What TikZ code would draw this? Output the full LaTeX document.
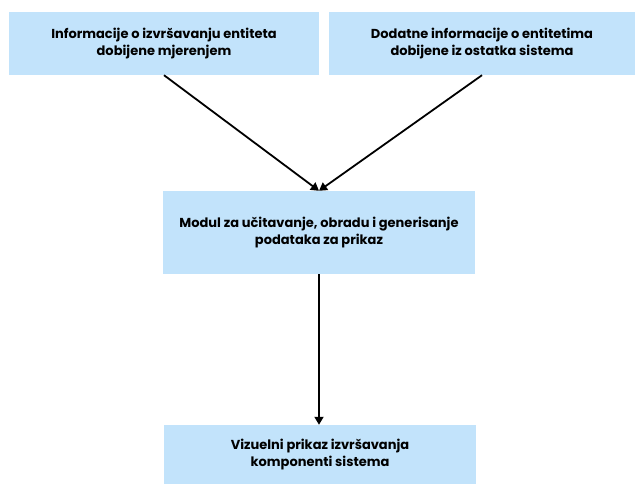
\documentclass[tikz,border=0pt]{standalone}
\usepackage{fontspec}
\setmainfont{Poppins}
\usetikzlibrary{arrows.meta}
\definecolor{boxblue}{RGB}{194,227,251}
\begin{document}
\begin{tikzpicture}[x=1pt,y=-1pt,
  box/.style={fill=boxblue,draw=none,align=center,inner sep=0pt,font=\fontsize{13}{17}\selectfont\bfseries},
  conn/.style={line width=1.8pt,-{Triangle[length=8pt,width=9pt]}}]
\useasboundingbox[fill=white] (0,0) rectangle (635,484);
\node[box,minimum width=310pt,minimum height=63pt] (A) at (164,43.5) {Informacije o izvršavanju entiteta\\dobijene mjerenjem};
\node[box,minimum width=306pt,minimum height=63pt] (B) at (482,43.5) {Dodatne informacije o entitetima\\dobijene iz ostatka sistema};
\node[box,minimum width=312pt,minimum height=83pt] (C) at (319,232.5) {Modul za učitavanje, obradu i generisanje\\podataka za prikaz};
\node[box,minimum width=312pt,minimum height=59pt] (D) at (320,454.5) {Vizuelni prikaz izvršavanja\\komponenti sistema};
\draw[conn] (A.south) -- (C.north);
\draw[conn] (B.south) -- (C.north);
\draw[conn] (C.south) -- (C.south |- D.north);
\end{tikzpicture}
\end{document}
